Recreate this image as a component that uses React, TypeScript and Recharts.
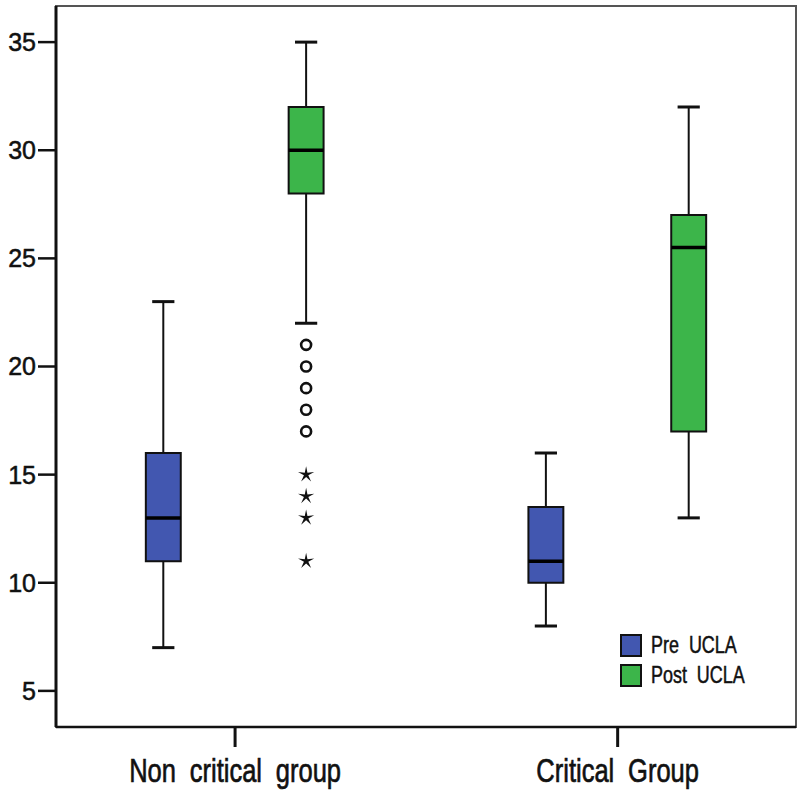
import { ComposedChart, Scatter, XAxis, YAxis, ReferenceArea, ReferenceLine } from 'recharts';

// group centres on a 0..10 horizontal scale, series offset either side
const GROUPS = ['Non critical group', 'Critical Group'];
const GROUP_X = [2.42, 7.59];
const SERIES = ['Pre  UCLA', 'Post  UCLA'];
const SERIES_OFFSET = [-0.97, 0.96];
const COLORS = ['#4257b0', '#3cb54a'];

// [group][series]
const MINS = [[7, 22], [8, 13]];
const Q1S = [[11, 28], [10, 17]];
const MEDIANS = [[13, 30], [11, 25.5]];
const Q3S = [[16, 32], [13.5, 27]];
const MAXS = [[23, 35], [16, 32]];

// outliers of Non critical group / Post UCLA
const OUTLIER_CIRCLES = [21, 20, 19, 18, 17];
const OUTLIER_STARS = [15, 14, 13, 11];

const Y_TICKS = [5, 10, 15, 20, 25, 30, 35];
const Y_DOMAIN = [3.33, 36.67];
const X_DOMAIN = [0, 10];

const BOX_HW = 0.236;
const CAP_HW = 0.15;
const FONT = '"Liberation Sans", Arial, sans-serif';

const outlierX = GROUP_X[0] + SERIES_OFFSET[1];
const circleData = OUTLIER_CIRCLES.map(y => ({ x: outlierX, y }));
const starData = OUTLIER_STARS.map(y => ({ x: outlierX, y }));

const Circle = (props: any) => (
  <circle cx={props.cx} cy={props.cy} r={5} fill="#fff" stroke="#111" strokeWidth={2.6} />
);

const Star = (props: any) => {
  const { cx, cy } = props;
  const pts: string[] = [];
  for (let i = 0; i < 10; i++) {
    const r = i % 2 === 0 ? 8.5 : 2.3;
    const a = -Math.PI / 2 + (i * Math.PI) / 5;
    pts.push(`${cx + r * Math.cos(a)},${cy + r * Math.sin(a)}`);
  }
  return <polygon points={pts.join(' ')} fill="#111" />;
};

// narrow-looking category labels (squeezed Liberation Sans)
const GroupTick = (props: any) => {
  const { x, y, payload } = props;
  const label = GROUPS[GROUP_X.indexOf(payload.value)] ?? '';
  return (
    <g transform={`translate(${x},${y}) scale(0.75,1)`}>
      <text x={0} y={0} dy="0.71em" textAnchor="middle" fill="#111" stroke="#111" strokeWidth={0.7} fontSize={34} fontFamily={FONT} style={{ wordSpacing: 9, whiteSpace: 'pre' }}>
        {label}
      </text>
    </g>
  );
};

const LegendBox = () => (
  <div style={{ position: 'absolute', left: 620, top: 630, fontFamily: FONT, fontSize: 23, color: '#111' }}>
    {SERIES.map((s, i) => (
      <div key={s} style={{ display: 'flex', alignItems: 'center', height: 30 }}>
        <div style={{ width: 18, height: 19, background: COLORS[i], border: '2px solid #111', marginRight: 9 }} />
        <span style={{ whiteSpace: 'pre', display: 'inline-block', transform: 'scaleX(0.78)', transformOrigin: 'left center', WebkitTextStroke: '0.5px #111' }}>{s}</span>
      </div>
    ))}
  </div>
);

export default function App() {
  const boxes: any[] = [];
  GROUP_X.forEach((gx, g) => {
    SERIES.forEach((_, s) => {
      const c = gx + SERIES_OFFSET[s];
      const k = `${g}-${s}`;
      boxes.push(
        <ReferenceLine key={`wu${k}`} segment={[{ x: c, y: Q3S[g][s] }, { x: c, y: MAXS[g][s] }]} stroke="#111" strokeWidth={2} ifOverflow="visible" />,
        <ReferenceLine key={`wl${k}`} segment={[{ x: c, y: MINS[g][s] }, { x: c, y: Q1S[g][s] }]} stroke="#111" strokeWidth={2} ifOverflow="visible" />,
        <ReferenceLine key={`cu${k}`} segment={[{ x: c - CAP_HW, y: MAXS[g][s] }, { x: c + CAP_HW, y: MAXS[g][s] }]} stroke="#111" strokeWidth={3} ifOverflow="visible" />,
        <ReferenceLine key={`cl${k}`} segment={[{ x: c - CAP_HW, y: MINS[g][s] }, { x: c + CAP_HW, y: MINS[g][s] }]} stroke="#111" strokeWidth={3} ifOverflow="visible" />,
        <ReferenceArea key={`b${k}`} x1={c - BOX_HW} x2={c + BOX_HW} y1={Q1S[g][s]} y2={Q3S[g][s]} fill={COLORS[s]} fillOpacity={1} stroke="#111" strokeWidth={2} ifOverflow="visible" />,
        <ReferenceLine key={`m${k}`} segment={[{ x: c - BOX_HW, y: MEDIANS[g][s] }, { x: c + BOX_HW, y: MEDIANS[g][s] }]} stroke="#000" strokeWidth={3.5} ifOverflow="visible" />
      );
    });
  });

  return (
    <div style={{ position: 'absolute', left: 0, top: 0, width: 800, height: 798, background: '#fff' }}>
      <ComposedChart width={800} height={798} margin={{ top: 6, right: 4, bottom: 0, left: 0 }}>
        {/* frame */}
        <ReferenceArea x1={X_DOMAIN[0]} x2={X_DOMAIN[1]} y1={Y_DOMAIN[0]} y2={Y_DOMAIN[1]} fill="none" stroke="#555" strokeWidth={2} ifOverflow="visible" />
        <XAxis
          type="number"
          dataKey="x"
          domain={X_DOMAIN}
          ticks={GROUP_X}
          height={71}
          tickSize={20}
          tickMargin={11}
          axisLine={{ stroke: '#111', strokeWidth: 2.5 }}
          tickLine={{ stroke: '#111', strokeWidth: 3 }}
          tick={GroupTick}
        />
        <YAxis
          type="number"
          dataKey="y"
          domain={Y_DOMAIN}
          ticks={Y_TICKS}
          width={56}
          tickSize={18}
          tickMargin={2}
          axisLine={{ stroke: '#111', strokeWidth: 3 }}
          tickLine={{ stroke: '#111', strokeWidth: 2.5 }}
          tick={{ fill: '#111', stroke: '#111', strokeWidth: 0.5, fontSize: 25, fontFamily: FONT }}
        />
        {boxes}
        <Scatter data={circleData} shape={Circle} isAnimationActive={false} />
        <Scatter data={starData} shape={Star} isAnimationActive={false} />
      </ComposedChart>
      <LegendBox />
    </div>
  );
}
